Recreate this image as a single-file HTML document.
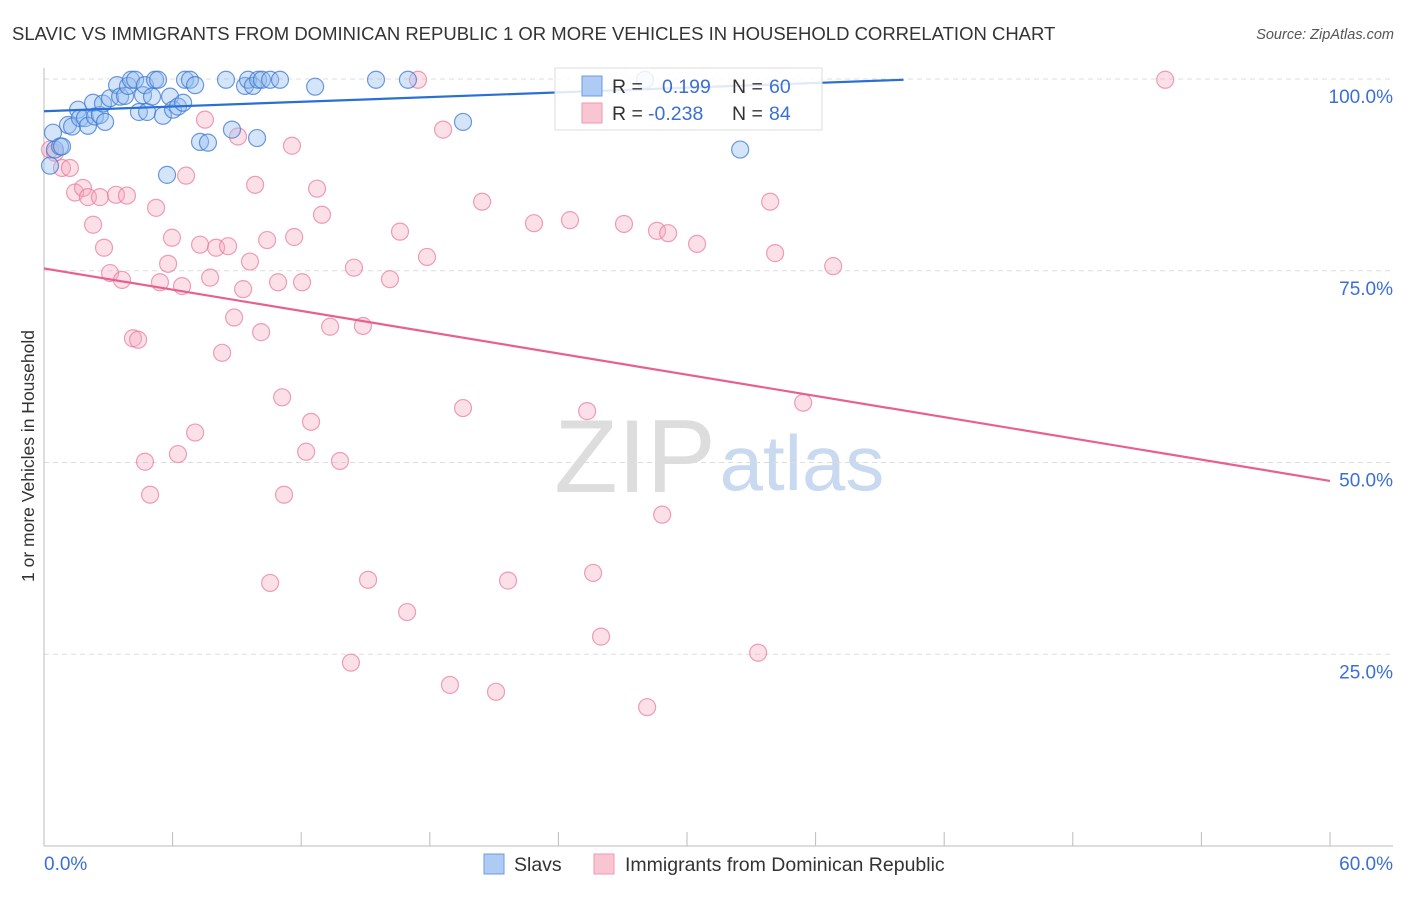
<!DOCTYPE html>
<html><head><meta charset="utf-8"><style>
body{margin:0;background:#fff;font-family:"Liberation Sans",sans-serif;}
svg text{font-family:"Liberation Sans",sans-serif;}
</style></head><body>
<svg id="chart" width="1406" height="892" viewBox="0 0 1406 892" xmlns="http://www.w3.org/2000/svg">
<text x="12" y="40" font-size="18.5" fill="#333">SLAVIC VS IMMIGRANTS FROM DOMINICAN REPUBLIC 1 OR MORE VEHICLES IN HOUSEHOLD CORRELATION CHART</text>
<text x="1394" y="39" font-size="14.5" fill="#555" font-style="italic" text-anchor="end">Source: ZipAtlas.com</text>
<g>
<text x="635" y="492" font-size="104" fill="#ddd" font-family="Liberation Serif, serif" text-anchor="middle">ZIP</text>
<text x="802" y="490" font-size="78" fill="#c9d9f0" text-anchor="middle">atlas</text>
</g>
<g id="grid"></g>
<g id="axes"></g>
<g id="pts"></g>
<g id="trends"></g>
<text transform="translate(34,456) rotate(-90)" font-size="17.5" fill="#333" text-anchor="middle">1 or more Vehicles in Household</text>
<g>
<rect x="555" y="68" width="267" height="62" fill="rgba(255,255,255,0.85)" stroke="#ddd"/>
<rect x="582" y="76" width="20" height="20" fill="#aecbf3" stroke="#6f9be0"/>
<text x="612" y="93" font-size="19.5" fill="#333">R = </text><text x="662" y="93" font-size="19.5" fill="#3b6fd6">0.199</text>
<text x="732" y="93" font-size="19.5" fill="#333">N = </text><text x="769" y="93" font-size="19.5" fill="#3b6fd6">60</text>
<rect x="582" y="103" width="20" height="20" fill="#f8c5d3" stroke="#ee9ab3"/>
<text x="612" y="120" font-size="19.5" fill="#333">R = </text><text x="648" y="120" font-size="19.5" fill="#3b6fd6">-0.238</text>
<text x="732" y="120" font-size="19.5" fill="#333">N = </text><text x="769" y="120" font-size="19.5" fill="#3b6fd6">84</text>
</g>
<g>
<rect x="484" y="854" width="20" height="20" fill="#aecbf3" stroke="#6f9be0"/>
<text x="514" y="871" font-size="19.5" fill="#333">Slavs</text>
<rect x="594" y="854" width="20" height="20" fill="#f8c5d3" stroke="#ee9ab3"/>
<text x="625" y="871" font-size="19.5" fill="#333">Immigrants from Dominican Republic</text>
</g>
</svg>
<script>
const blueX=[0.28,0.42,0.51,0.75,0.84,1.12,1.31,1.59,1.68,1.91,2.05,2.29,2.38,2.61,2.75,2.85,3.08,3.41,3.55,3.78,3.92,4.06,4.25,4.43,4.62,4.71,4.81,5.04,5.18,5.32,5.55,5.74,5.88,6.02,6.25,6.49,6.58,6.81,7.05,7.28,7.65,8.49,8.77,9.38,9.52,9.75,9.99,10.17,10.55,11.01,12.65,15.49,16.98,19.55,28.04,32.48,9.94];
const blueY=[88.7,93.0,90.8,91.2,91.2,94.0,93.8,96.0,94.9,94.9,93.9,96.9,95.1,95.3,96.8,94.4,97.5,99.2,97.7,97.8,99.1,99.9,99.9,95.7,97.9,99.2,95.7,97.7,99.9,99.9,95.2,87.5,97.7,96.0,96.4,96.9,99.9,99.9,99.2,91.8,91.7,99.9,93.4,99.1,99.9,99.1,99.9,99.9,99.9,99.9,99.0,99.9,99.9,94.4,99.9,90.8,92.3];
const pinkX=[0.28,0.51,0.84,1.21,1.45,1.82,2.05,2.29,2.61,2.80,3.08,3.36,3.64,3.87,4.15,4.39,4.71,4.95,5.23,5.41,5.79,5.97,6.25,6.44,6.63,7.05,7.28,7.51,7.75,8.03,8.31,8.59,8.87,9.05,9.29,9.61,9.85,10.13,10.41,10.55,10.92,11.11,11.20,11.57,11.67,12.04,12.23,12.46,12.74,12.97,13.35,13.81,14.32,14.46,14.88,15.12,16.14,16.61,16.94,17.87,18.62,18.94,19.55,20.44,21.09,21.65,22.86,24.54,25.34,25.62,25.99,27.06,28.14,28.60,28.84,29.12,30.47,33.32,33.88,34.11,35.42,36.82,52.31,17.45];
const pinkY=[90.8,90.4,88.4,88.4,85.2,85.8,84.6,81.0,84.6,78.0,74.7,84.9,73.8,84.8,66.2,66.0,50.1,45.8,83.2,73.5,75.9,79.3,51.1,73.0,87.4,53.9,78.4,94.7,74.1,78.0,64.3,78.2,68.9,92.5,72.6,76.2,86.2,67.0,79.0,34.3,73.5,58.5,45.8,91.3,79.4,73.5,51.4,55.3,85.7,82.3,67.7,50.2,23.9,75.4,67.8,34.7,73.9,80.1,30.5,76.8,93.4,21.0,57.1,84.0,20.1,34.6,81.2,81.6,56.7,35.6,27.3,81.1,18.1,80.2,43.2,79.9,78.5,25.2,84.0,77.3,57.8,75.6,99.9,99.9];
const blueTrendX=[0,40.1], blueTrendY=[95.8,99.9];
const pinkTrendX=[0,60], pinkTrendY=[75.3,47.6];
const yTicks=[100,75,50,25];
const yTickLabels=["100.0%","75.0%","50.0%","25.0%"];
const xTicks=[0,6,12,18,24,30,36,42,48,54,60];
const xTickLabels=["0.0%","60.0%"];
const NS="http://www.w3.org/2000/svg";
const sx=v=>44+v/60*1286, sy=v=>846-v/100*767;
function mk(tag,attrs,parent){const e=document.createElementNS(NS,tag);for(const k in attrs)e.setAttribute(k,attrs[k]);document.getElementById(parent).appendChild(e);return e;}
yTicks.forEach((t,i)=>{
 const g=mk('line',{x1:44,x2:1393,y1:sy(t),y2:sy(t),stroke:'#ddd','stroke-dasharray':'5,4'},'grid');
 
 
 const l=mk('text',{x:1393,y:sy(t)+24,'font-size':19,fill:'#3b6fd6','text-anchor':'end'},'grid');
 l.textContent=yTickLabels[i];
 
 
});
const ax=mk('line',{x1:44,x2:44,y1:68,y2:846,stroke:'#bbb'},'axes');


const bx=mk('line',{x1:44,x2:1393,y1:846,y2:846,stroke:'#bbb'},'axes');


xTicks.forEach(t=>{
 const k=mk('line',{x1:sx(t),x2:sx(t),y1:832,y2:846,stroke:'#bbb'},'axes');
 
 
});
const xl0=mk('text',{x:44,y:870,'font-size':19,fill:'#3b6fd6'},'axes');xl0.textContent=xTickLabels[0];


const xl1=mk('text',{x:1393,y:870,'font-size':19,fill:'#3b6fd6','text-anchor':'end'},'axes');xl1.textContent=xTickLabels[1];


pinkX.forEach((x,i)=>{
 const c=mk('circle',{cx:sx(x),cy:sy(pinkY[i]),r:8.5,fill:'rgba(244,167,190,0.35)',stroke:'rgba(232,120,155,0.7)','stroke-width':1.2},'pts');
 
 
});
blueX.forEach((x,i)=>{
 const c=mk('circle',{cx:sx(x),cy:sy(blueY[i]),r:8.5,fill:'rgba(150,190,240,0.4)',stroke:'rgba(60,120,210,0.75)','stroke-width':1.2},'pts');
 
 
});
const bt=mk('line',{x1:sx(blueTrendX[0]),y1:sy(blueTrendY[0]),x2:sx(blueTrendX[1]),y2:sy(blueTrendY[1]),stroke:'#2a6fd6','stroke-width':2.2},'trends');


const pt=mk('line',{x1:sx(pinkTrendX[0]),y1:sy(pinkTrendY[0]),x2:sx(pinkTrendX[1]),y2:sy(pinkTrendY[1]),stroke:'#e8608f','stroke-width':2.2},'trends');


</script>
</body></html>
